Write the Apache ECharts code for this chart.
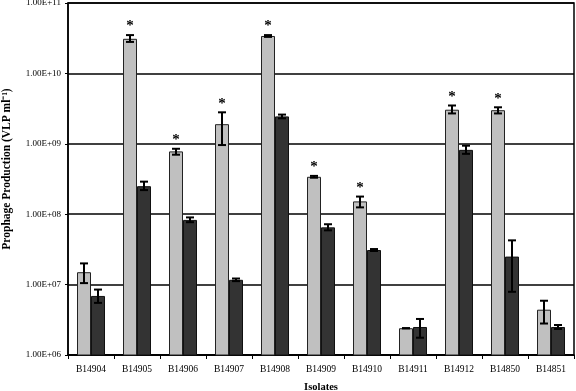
<!DOCTYPE html>
<html><head><meta charset="utf-8">
<script src="https://cdn.jsdelivr.net/npm/echarts@6/dist/echarts.min.js"></script>
<style>html,body{margin:0;padding:0;background:#fff}#c{width:576px;height:391px}</style>
</head><body><div id="c"></div>
<script>
const categories = ['B14904','B14905','B14906','B14907','B14908','B14909','B14910','B14911','B14912','B14850','B14851'];
const lightValues = [1.5e7, 3.1e10, 7.8e8, 1.9e9, 3.4e10, 3.4e8, 1.52e8, 2.4e6, 3.05e9, 3.0e9, 4.4e6];
const lightLow    = [1.05e7, 2.8e10, 7.0e8, 9.6e8, 3.3e10, 3.3e8, 1.25e8, 2.4e6, 2.7e9, 2.7e9, 2.8e6];
const lightHigh   = [2.0e7, 3.5e10, 8.5e8, 2.8e9, 3.5e10, 3.5e8, 1.78e8, 2.4e6, 3.5e9, 3.3e9, 5.9e6];
const darkValues  = [6.9e6, 2.5e8, 8.3e7, 1.17e7, 2.45e9, 6.5e7, 3.1e7, 2.5e6, 8.2e8, 2.5e7, 2.5e6];
const darkLow     = [5.5e6, 2.2e8, 7.7e7, 1.12e7, 2.3e9, 5.9e7, 3.0e7, 1.76e6, 7.2e8, 7.9e6, 2.34e6];
const darkHigh    = [8.5e6, 2.9e8, 9.0e7, 1.22e7, 2.6e9, 7.2e7, 3.2e7, 3.25e6, 9.4e8, 4.25e7, 2.67e6];
const significant = [false, true, true, true, true, true, true, false, true, true, false];
const yTicks = [1e6, 1e7, 1e8, 1e9, 1e10, 1e11];

function fmt(v){
  const e = Math.round(Math.log10(v));
  return '1.00E+' + (e < 10 ? '0' + e : '' + e);
}
const BW = 14;
function errItem(lowArr, highArr, offset, star){
  return function(params, api){
    const i = api.value(0);
    const c = api.coord([i, lowArr[i]]);
    const h = api.coord([i, highArr[i]]);
    const x = c[0] + offset;
    const children = [
      {type:'line', shape:{x1:x, y1:c[1], x2:x, y2:h[1]}, style:{stroke:'#000', lineWidth:2}},
      {type:'line', shape:{x1:x-4, y1:c[1], x2:x+4, y2:c[1]}, style:{stroke:'#000', lineWidth:2}},
      {type:'line', shape:{x1:x-4, y1:h[1], x2:x+4, y2:h[1]}, style:{stroke:'#000', lineWidth:2}}
    ];
    if (star && significant[i]) {
      children.push({type:'text', style:{text:'*', x:x, y:h[1]-16, textAlign:'center', textVerticalAlign:'top', font:'bold 15px "Liberation Serif"', fill:'#000'}});
    }
    return {type:'group', children};
  };
}
const idx = categories.map((c,i)=>[i]);
const chart = echarts.init(document.getElementById('c'), null, {renderer:'canvas'});
chart.setOption({
  animation:false,
  textStyle:{fontFamily:'"Liberation Serif", serif'},
  grid:{left:68, right:2, top:3, bottom:36, show:true, borderColor:'#000', borderWidth:1.5, containLabel:false, outerBoundsMode:'none'},
  xAxis:{type:'category', data:categories, name:'Isolates', nameLocation:'middle', nameGap:27,
    nameTextStyle:{fontWeight:'bold', fontSize:10.5, color:'#000', fontFamily:'"Liberation Serif", serif'},
    axisLine:{lineStyle:{color:'#000', width:1.5}},
    axisTick:{show:true, alignWithLabel:false, interval:0, length:4, lineStyle:{color:'#000'}},
    axisLabel:{color:'#000', fontSize:9.5, margin:9, interval:0, fontFamily:'"Liberation Serif", serif'}},
  yAxis:{type:'log', logBase:10, min:1e6, max:1e11,
    name:'Prophage Production (VLP ml\u207B\u00B9)', nameLocation:'middle', nameGap:55,
    nameTextStyle:{fontWeight:'bold', fontSize:11.5, color:'#000', padding:[0,0,0,20], fontFamily:'"Liberation Serif", serif'},
    axisLine:{show:true, lineStyle:{color:'#000', width:1.5}},
    axisTick:{show:true, length:3, lineStyle:{color:'#000'}},
    splitLine:{show:true, lineStyle:{color:'#000', width:1.5}},
    axisLabel:{color:'#000', fontSize:9, margin:7, formatter:function(v){return yTicks.indexOf(v)>=0?fmt(v):'';}, fontFamily:'"Liberation Serif", serif'}},
  series:[
    {type:'bar', data:lightValues, barWidth:BW, barGap:'0%', itemStyle:{color:'#c0c0c0', borderColor:'#222', borderWidth:1}},
    {type:'bar', data:darkValues, barWidth:BW, barGap:'0%', itemStyle:{color:'#333333', borderColor:'#111', borderWidth:1}},
    {type:'custom', data:idx, renderItem:errItem(lightLow, lightHigh, -BW/2, true), z:5},
    {type:'custom', data:idx, renderItem:errItem(darkLow, darkHigh, BW/2, false), z:5}
  ]
});
</script></body></html>
